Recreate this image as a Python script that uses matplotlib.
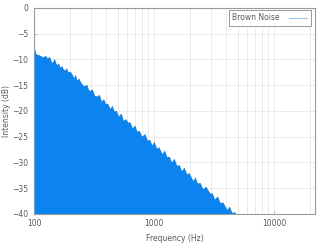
import matplotlib
matplotlib.use('Agg')
import matplotlib.pyplot as plt
from matplotlib.ticker import FixedLocator, NullFormatter

# Spectrum of brown noise (upper edge of the fill)
freqs = [100, 102, 104, 106, 110, 114, 119, 124, 129, 133, 136, 140, 144, 148,
         152, 155, 160, 165, 170, 174, 180, 186, 192, 200, 207, 214, 221, 228,
         236, 245, 256, 265, 275, 285, 293, 305, 320, 335, 350, 365, 380, 395,
         410, 430, 447, 465, 485, 505, 530, 555, 580, 606, 630, 660, 690, 720,
         755, 790, 841, 880, 920, 960, 1000, 1050, 1100, 1166, 1220, 1280, 1340,
         1400, 1470, 1549, 1620, 1700, 1780, 1870, 1960, 2110, 2200, 2300, 2420,
         2550, 2700, 2929, 3050, 3200, 3380, 3550, 3750, 4050, 4250, 4450, 4710,
         4900, 5100]
levels = [-7.4, -8.3, -8.9, -9.0, -9.1, -9.3, -9.5, -9.2, -9.7, -9.5, -9.6, -10.6,
          -10.3, -9.8, -10.7, -11.0, -10.7, -11.5, -11.2, -11.7, -12.1, -11.6,
          -12.4, -12.3, -12.8, -13.5, -12.9, -14.0, -13.6, -14.4, -15.0, -15.1,
          -14.8, -15.9, -16.0, -15.7, -17.0, -17.1, -16.8, -18.1, -17.6, -18.6,
          -18.5, -19.5, -18.9, -20.0, -19.9, -21.0, -20.4, -21.8, -21.5, -22.2,
          -22.1, -23.3, -22.7, -23.9, -23.8, -24.9, -24.4, -25.7, -25.5, -26.6,
          -25.9, -27.2, -27.0, -28.3, -27.6, -28.9, -28.8, -29.9, -29.2, -30.6,
          -30.4, -31.6, -30.9, -32.2, -32.0, -33.5, -32.8, -34.0, -33.9, -35.1,
          -34.6, -36.0, -35.9, -37.1, -36.5, -37.8, -37.7, -39.1, -38.5, -39.7,
          -39.6, -40.3, -40.7]

x_ticks = [100, 1000, 10000]
y_ticks = [0, -5, -10, -15, -20, -25, -30, -35, -40]

fill_color = '#0b84f0'
grey = '#5a5a5a'

fig = plt.figure(figsize=(3.3, 2.47), dpi=100)
ax = fig.add_axes([0.103, 0.134, 0.852, 0.834])

ax.fill_between(freqs, levels, -45, color=fill_color, linewidth=0, zorder=2)
ax.plot([], [], color='#9cc8f0', linewidth=0.8, label='Brown Noise')

ax.set_xscale('log')
ax.set_xlim(100, 22050)
ax.set_ylim(-40, 0)
ax.set_xticks(x_ticks)
ax.set_xticklabels([str(t) for t in x_ticks])
ax.xaxis.set_minor_locator(FixedLocator([m * d for d in (100, 1000, 10000) for m in range(2, 10)]))
ax.xaxis.set_minor_formatter(NullFormatter())
ax.set_yticks(y_ticks)

ax.grid(True, which='both', color='#e8e8e8', linewidth=0.6, zorder=0)
ax.set_axisbelow(True)

ax.tick_params(which='both', direction='in', length=2, width=0.5, colors='#aaaaaa',
               labelcolor=grey, labelsize=5.5, pad=4)
ax.tick_params(which='minor', length=0)
for s in ax.spines.values():
    s.set_color('#999999')
    s.set_linewidth(0.8)

ax.set_xlabel('Frequency (Hz)', fontsize=5.5, color=grey, labelpad=4)
ax.set_ylabel('Intensity (dB)', fontsize=5.5, color=grey, labelpad=1)

leg = ax.legend(loc='upper right', fontsize=5.5, markerfirst=False, fancybox=False,
                framealpha=1, edgecolor='#888888', handlelength=2.4, handletextpad=1.2,
                borderpad=0.45, borderaxespad=0, bbox_to_anchor=(0.985, 0.99))
for t in leg.get_texts():
    t.set_color(grey)
leg.get_frame().set_linewidth(0.6)

fig.savefig('out.png', dpi=100)
